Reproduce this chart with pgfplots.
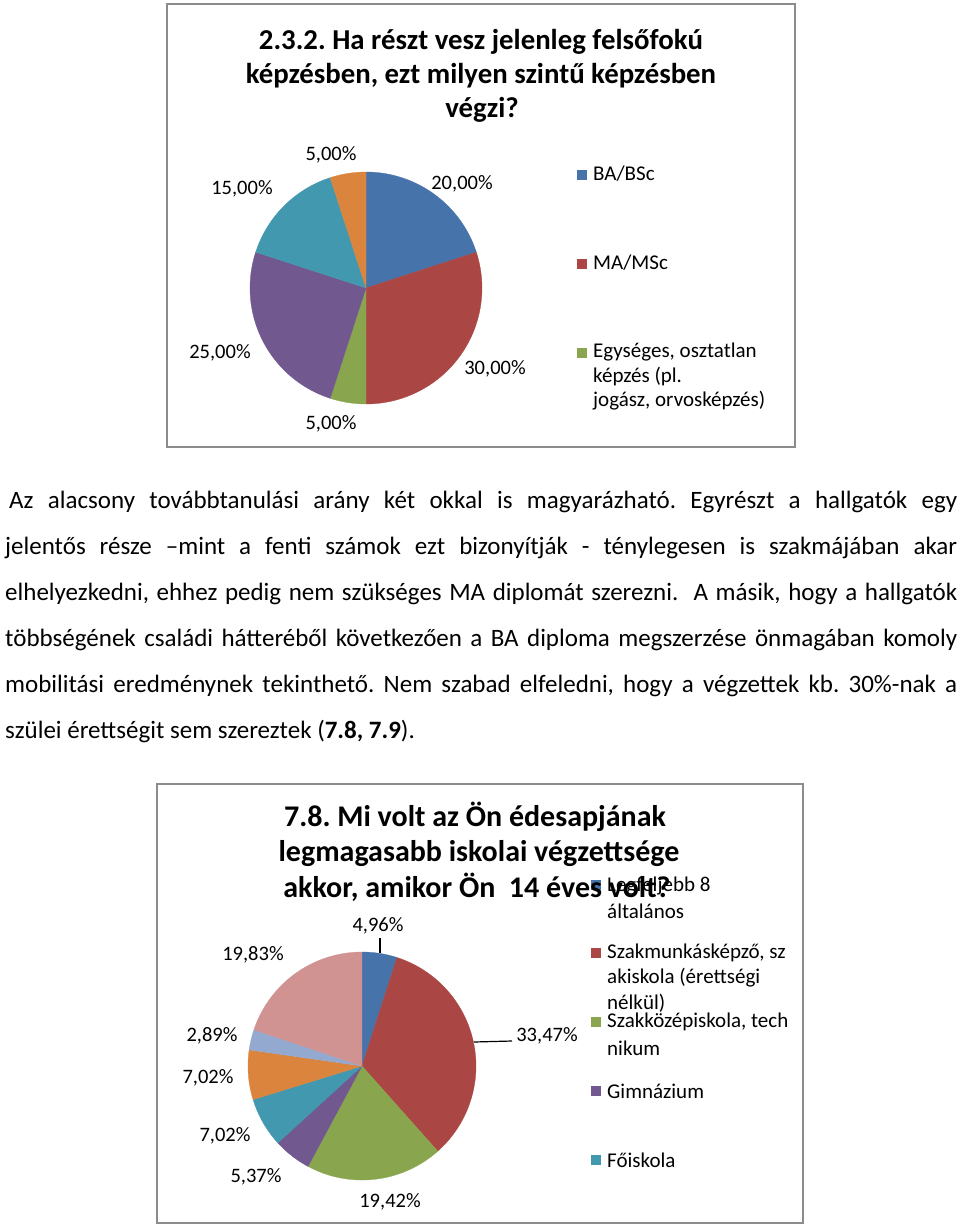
\documentclass[border=0pt]{standalone}
\usepackage{pgfplots}
\pgfplotsset{compat=1.18}
\usepackage{pgfplotstable}
\usepackage{fontspec}
\setmainfont{Carlito}
\definecolor{c1}{HTML}{4673AA}
\definecolor{c2}{HTML}{AA4643}
\definecolor{c3}{HTML}{89A54E}
\definecolor{c4}{HTML}{71588F}
\definecolor{c5}{HTML}{4198AF}
\definecolor{c6}{HTML}{DB843D}
\definecolor{c7}{HTML}{93A9CF}
\definecolor{c8}{HTML}{D09392}
\definecolor{framegray}{HTML}{8C8C8C}

\pgfplotstableread{
pct
20.00
30.00
5.00
25.00
15.00
5.00
}\pieone

\pgfplotstableread{
pct
4.96
33.47
19.42
5.37
7.02
7.02
2.89
19.83
}\pietwo

\newcommand{\drawpie}[1]{%
  \pgfplotstablegetrowsof{#1}%
  \pgfmathtruncatemacro\pienlast{\pgfplotsretval-1}%
  \def\piecum{0}%
  \pgfplotsforeachungrouped \pieidx in {0,...,\pienlast}{%
    \pgfplotstablegetelem{\pieidx}{pct}\of{#1}%
    \let\pieval\pgfplotsretval
    \pgfmathsetmacro\piea{90-3.6*(\piecum+\pieval)}%
    \pgfmathsetmacro\pieb{90-3.6*\piecum}%
    \pgfmathsetmacro\piecum{\piecum+\pieval}%
    \pgfmathtruncatemacro\pieci{\pieidx+1}%
    \edef\pietmp{\noexpand\addplot[fill=c\pieci, draw=c\pieci, line width=0.3pt, data cs=polar, domain=\piea:\pieb, samples=60] ({x},{1}) -- (axis cs:0,0) -- cycle;}%
    \pietmp
  }%
}

\newcommand{\lbl}{\fontsize{20.5}{24}\selectfont}
\newcommand{\lgd}{\fontsize{21}{25}\selectfont}
\newcommand{\ttlA}{\fontsize{28.8}{34}\selectfont\bfseries}
\newcommand{\ttlB}{\fontsize{30}{35}\selectfont\bfseries}
\begin{document}
\frenchspacing
\begin{tikzpicture}[x=1pt,y=1pt]
\path[use as bounding box] (0,0) rectangle (960,-1226);

% ---------- Chart 1 ----------
\draw[framegray, line width=2pt] (167,-4) rectangle (795,-447);
\begin{axis}[at={(366pt,-288pt)}, anchor=center, hide axis, x=116pt, y=116pt,
  xmin=-1, xmax=1, ymin=-1, ymax=1, clip=false]
  \drawpie{\pieone}
\end{axis}
\node[anchor=base, font=\ttlA] at (481,-49) {2.3.2. Ha részt vesz jelenleg felsőfokú};
\node[anchor=base, font=\ttlA] at (481,-83) {képzésben, ezt milyen szintű képzésben};
\node[anchor=base, font=\ttlA] at (482,-117) {végzi?};
\node[font=\lbl] at (331,-155) {5,00\%};
\node[font=\lbl] at (242,-189) {15,00\%};
\node[font=\lbl] at (462,-184) {20,00\%};
\node[font=\lbl] at (220,-353) {25,00\%};
\node[font=\lbl] at (495,-369) {30,00\%};
\node[font=\lbl] at (331,-424) {5,00\%};
\fill[c1] (577,-170) rectangle (587,-180);
\fill[c2] (577,-259) rectangle (587,-269);
\fill[c3] (577,-348) rectangle (587,-358);
\node[font=\lgd, anchor=west, inner sep=0] at (593,-174) {BA/BSc};
\node[font=\lgd, anchor=west, inner sep=0] at (593,-263) {MA/MSc};
\node[font=\lgd, anchor=west, inner sep=0] at (593,-352) {Egységes, osztatlan};
\node[font=\lgd, anchor=west, inner sep=0] at (593,-377) {képzés (pl.};
\node[font=\lgd, anchor=west, inner sep=0] at (593,-401) {jogász, orvosképzés)};

% ---------- Paragraph ----------
\begin{scope}[every node/.style={anchor=base west, inner sep=0, font=\fontsize{25}{29}\selectfont}]
\node at (9,-508) {\makebox[948pt][s]{Az alacsony továbbtanulási arány két okkal is magyarázható. Egyrészt a hallgatók egy}};
\node at (5,-554) {\makebox[952pt][s]{jelentős része –mint a fenti számok ezt bizonyítják - ténylegesen is szakmájában akar}};
\node at (5,-600) {\makebox[952pt][s]{elhelyezkedni, ehhez pedig nem szükséges MA diplomát szerezni. \ A másik, hogy a hallgatók}};
\node at (5,-646) {\makebox[952pt][s]{többségének családi hátteréből következően a BA diploma megszerzése önmagában komoly}};
\node at (5,-692) {\makebox[952pt][s]{mobilitási eredménynek tekinthető. Nem szabad elfeledni, hogy a végzettek kb. 30\%-nak a}};
\node at (5,-738) {szülei érettségit sem szereztek (\textbf{7.8, 7.9}).};
\end{scope}

% ---------- Chart 2 ----------
\draw[framegray, line width=2pt] (157,-784) rectangle (803,-1223);
\begin{axis}[at={(362pt,-1066pt)}, anchor=center, hide axis, x=114pt, y=114pt,
  xmin=-1, xmax=1, ymin=-1, ymax=1, clip=false]
  \drawpie{\pietwo}
\end{axis}
\draw[line width=1.2pt] (380,-953) -- (380,-938);
\draw[line width=1.2pt] (474,-1042) -- (512,-1041);
\node[font=\lbl] at (378,-926) {4,96\%};
\node[font=\lbl] at (253,-955) {19,83\%};
\node[font=\lbl] at (212,-1036) {2,89\%};
\node[font=\lbl] at (208,-1078) {7,02\%};
\node[font=\lbl] at (225,-1136) {7,02\%};
\node[font=\lbl] at (256,-1177) {5,37\%};
\node[font=\lbl] at (390,-1202) {19,42\%};
\node[font=\lbl] at (547,-1036) {33,47\%};
\fill[c1] (591,-880) rectangle (601,-890);
\fill[c2] (591,-948) rectangle (601,-958);
\fill[c3] (591,-1017) rectangle (601,-1027);
\fill[c4] (591,-1086) rectangle (601,-1096);
\fill[c5] (591,-1155) rectangle (601,-1165);
\begin{scope}[every node/.style={font=\lgd, anchor=west, inner sep=0}]
\node at (607,-886) {Legfeljebb 8};
\node at (607,-911) {általános};
\node at (607,-953) {Szakmunkásképző, sz};
\node at (607,-978) {akiskola (érettségi};
\node at (607,-1003) {nélkül)};
\node at (607,-1022) {Szakközépiskola, tech};
\node at (607,-1048) {nikum};
\node at (607,-1091) {Gimnázium};
\node at (607,-1160) {Főiskola};
\end{scope}
\node[anchor=base, font=\ttlB] at (475,-826) {7.8. Mi volt az Ön édesapjának};
\node[anchor=base, font=\ttlB] at (479,-861) {legmagasabb iskolai végzettsége};
\node[anchor=base, font=\ttlB] at (477,-897) {akkor, amikor Ön \ 14 éves volt?};
\end{tikzpicture}
\end{document}
